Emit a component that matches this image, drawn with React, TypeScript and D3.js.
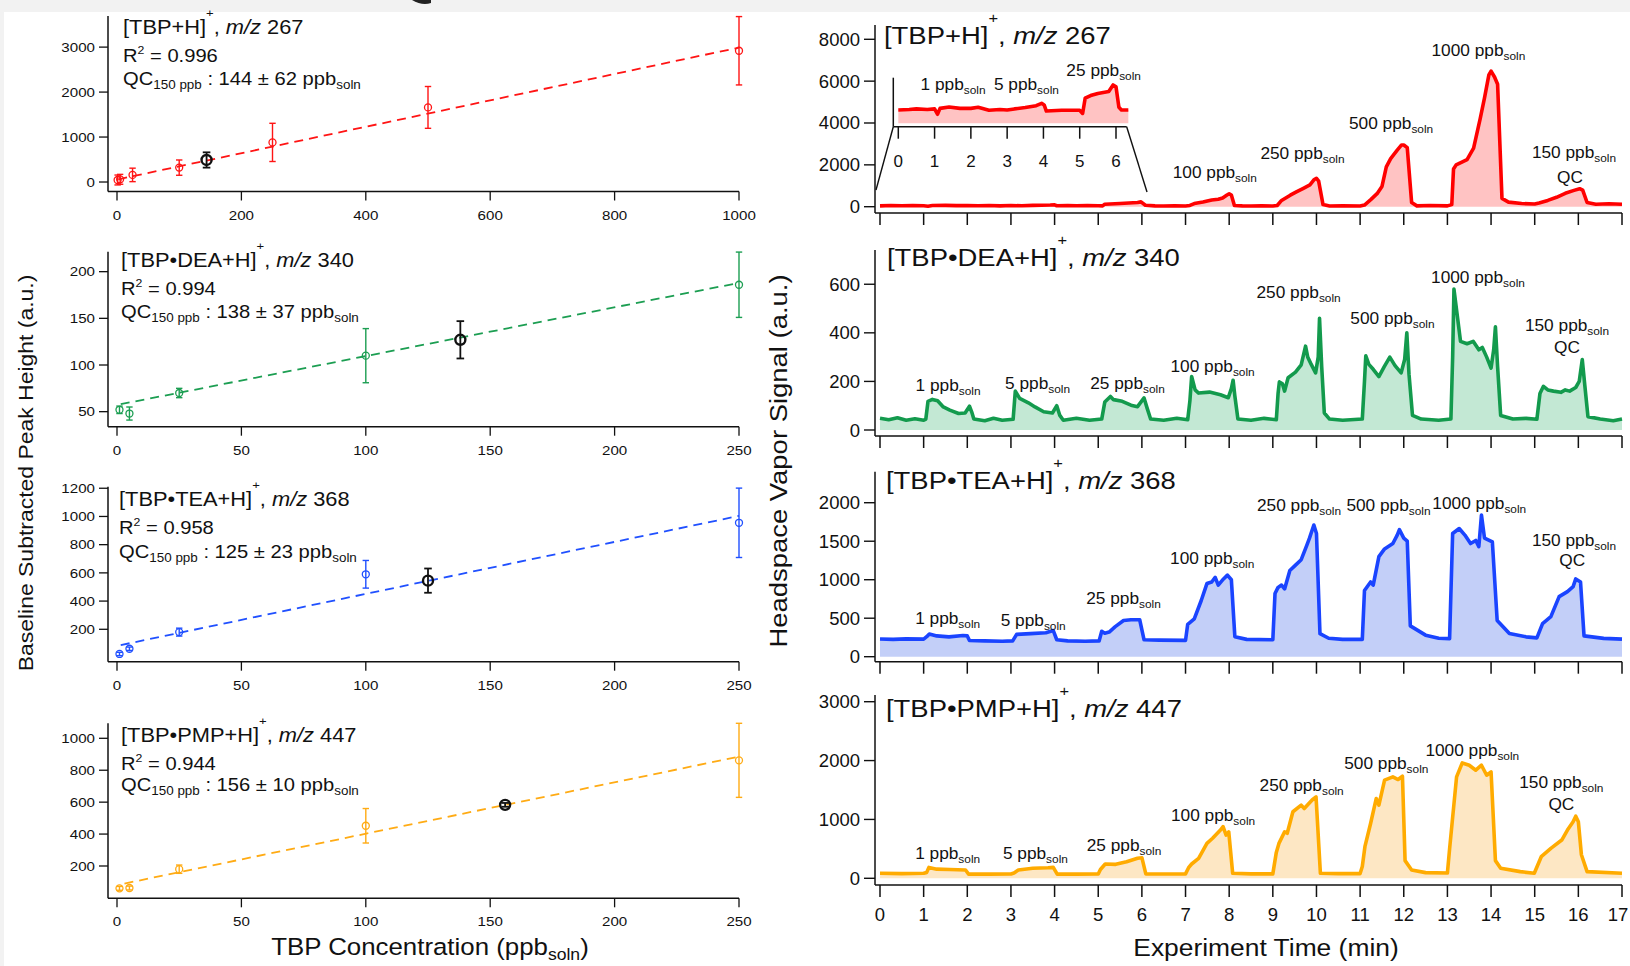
import React from 'react';
import * as d3 from 'd3';

const FONT = '"Liberation Sans", Arial, Helvetica, sans-serif';

// ---------------- Calibration data (left column) ----------------
const conc267 = [1, 5, 25, 100, 250, 500, 1000];
const height267 = [45, 60, 158, 320, 881, 1659, 2919];
const err267 = [110, 110, 150, 170, 425, 465, 760];
const qc267 = [144, 490, 170];
const fit267: [number, number][] = [[2, 60], [1000, 2990]];

const conc340 = [1, 5, 25, 100, 250];
const height340 = [52, 48, 70, 110, 186];
const err340 = [4, 7, 5, 29, 35];
const qc340 = [138, 127, 20];
const fit340: [number, number][] = [[1.5, 58], [250, 188]];

const conc368 = [1, 5, 25, 100, 250];
const height368 = [25, 62, 180, 590, 955];
const err368 = [12, 12, 28, 98, 246];
const qc368 = [125, 545, 86];
const fit368: [number, number][] = [[1.5, 88], [250, 1004]];

const conc447 = [1, 5, 25, 100, 250];
const height447 = [60, 62, 180, 452, 862];
const err447 = [12, 12, 26, 108, 232];
const qc447 = [156, 583, 12];
const fit447: [number, number][] = [[3, 90], [250, 885]];

const r2Values = ['0.996', '0.994', '0.958', '0.944'];
const qcValues = ['144 ± 62', '138 ± 37', '125 ± 23', '156 ± 10'];
const species = ['[TBP+H]', '[TBP•DEA+H]', '[TBP•TEA+H]', '[TBP•PMP+H]'];
const mzValues = ['267', '340', '368', '447'];

const xTicksL1 = [0, 200, 400, 600, 800, 1000];
const xTicksL = [0, 50, 100, 150, 200, 250];
const yTicksL1 = [0, 1000, 2000, 3000];
const yTicksL2 = [50, 100, 150, 200];
const yTicksL3 = [200, 400, 600, 800, 1000, 1200];
const yTicksL4 = [200, 400, 600, 800, 1000];

// ---------------- Time traces (right column) ----------------
const trace267: [number, number][] = [
  [0, 40], [0.25, 55], [0.5, 45], [0.75, 60], [1.0, 45], [1.1, 25], [1.2, 55], [1.5, 65], [1.75, 50], [2.0, 60],
  [2.25, 45], [2.5, 55], [2.75, 40], [3.0, 55], [3.25, 45], [3.5, 65], [3.9, 80], [4.0, 90], [4.05, 45],
  [4.3, 60], [4.5, 45], [4.75, 55], [5.0, 45], [5.1, 40], [5.15, 120], [5.5, 150], [5.9, 200],
  [5.98, 230], [6.08, 70], [6.3, 40], [6.5, 30], [6.75, 45], [7.0, 30], [7.1, 60], [7.2, 150], [7.4, 220],
  [7.6, 320], [7.75, 360], [7.85, 420], [7.95, 560], [8.0, 620], [8.05, 560], [8.12, 60], [8.3, 40], [8.5, 30],
  [8.75, 45], [9.0, 30], [9.1, 60], [9.2, 300], [9.4, 550], [9.55, 720], [9.7, 880], [9.85, 1040], [9.95, 1300],
  [10.0, 1360], [10.05, 1220], [10.15, 100], [10.3, 30], [10.6, 45], [11.0, 30], [11.1, 80], [11.25, 350],
  [11.4, 650], [11.5, 960], [11.6, 1900], [11.7, 2300], [11.85, 2700], [11.95, 2950], [12.0, 2950],
  [12.08, 2820], [12.18, 200], [12.3, 40], [12.6, 55], [13.0, 40], [13.1, 100], [13.14, 1800], [13.2, 2000],
  [13.45, 2250], [13.6, 2800], [13.75, 4200], [13.85, 5200], [13.95, 6300], [14.0, 6480], [14.08, 6200],
  [14.15, 5850], [14.25, 400], [14.4, 220], [14.7, 150], [15.0, 130], [15.1, 180], [15.3, 300], [15.5, 450],
  [15.7, 640], [15.9, 780], [16.03, 860], [16.1, 790], [16.2, 200], [16.4, 120], [16.7, 140], [17.0, 120],
];

const inset267: [number, number][] = [
  [0, 50], [0.3, 52], [0.5, 54], [0.8, 52], [1.0, 54], [1.08, 34], [1.15, 56], [1.4, 61], [1.7, 56], [2.0, 56],
  [2.2, 60], [2.5, 49], [2.8, 52], [3.0, 50], [3.2, 54], [3.5, 59], [3.8, 66], [3.95, 75], [4.02, 69], [4.08, 46],
  [4.5, 49], [5.0, 49], [5.08, 37], [5.15, 94], [5.3, 104], [5.5, 112], [5.8, 119], [5.92, 144], [6.0, 137],
  [6.08, 60], [6.15, 50], [6.34, 50],
];

const trace340: [number, number][] = [
  [0, 48], [0.2, 42], [0.4, 50], [0.6, 40], [0.8, 46], [1.0, 40], [1.05, 45], [1.1, 118], [1.2, 126], [1.32, 120],
  [1.45, 95], [1.6, 82], [1.8, 68], [1.95, 70], [2.05, 98], [2.1, 75], [2.15, 45], [2.4, 38], [2.6, 48], [2.8, 40],
  [3.05, 44], [3.1, 160], [3.2, 130], [3.4, 112], [3.55, 95], [3.75, 75], [3.95, 70], [4.05, 100], [4.12, 60],
  [4.2, 40], [4.5, 48], [4.8, 40], [5.08, 45], [5.15, 115], [5.28, 138], [5.35, 125], [5.55, 118], [5.75, 102],
  [5.9, 96], [6.05, 132], [6.12, 90], [6.2, 45], [6.5, 40], [6.8, 48], [7.05, 42], [7.1, 120], [7.14, 220],
  [7.22, 165], [7.3, 152], [7.55, 156], [7.8, 145], [7.98, 133], [8.05, 170], [8.09, 205], [8.13, 140], [8.2, 45],
  [8.5, 40], [8.8, 48], [9.08, 42], [9.12, 150], [9.15, 198], [9.22, 190], [9.27, 160], [9.35, 215], [9.52, 238],
  [9.65, 268], [9.75, 345], [9.8, 300], [9.88, 270], [9.98, 235], [10.04, 300], [10.07, 460], [10.12, 260],
  [10.18, 70], [10.3, 45], [10.6, 40], [11.05, 45], [11.1, 200], [11.13, 305], [11.2, 270], [11.3, 250],
  [11.43, 220], [11.55, 260], [11.68, 300], [11.8, 265], [11.94, 235], [12.02, 290], [12.07, 400], [12.12, 230],
  [12.2, 60], [12.4, 45], [12.8, 40], [13.08, 45], [13.12, 300], [13.15, 580], [13.22, 480], [13.3, 365],
  [13.45, 355], [13.59, 365], [13.72, 330], [13.8, 340], [13.9, 300], [14.0, 255], [14.06, 330], [14.1, 425],
  [14.15, 260], [14.22, 60], [14.5, 45], [14.8, 48], [15.05, 44], [15.12, 150], [15.2, 180], [15.3, 165],
  [15.43, 160], [15.6, 155], [15.7, 165], [15.8, 160], [15.94, 175], [16.02, 200], [16.09, 290], [16.15, 180],
  [16.22, 55], [16.5, 45], [16.8, 38], [17.0, 45],
];

const trace368: [number, number][] = [
  [0, 230], [0.3, 225], [0.6, 232], [1.0, 228], [1.07, 260], [1.13, 295], [1.3, 270], [1.58, 258], [1.9, 275],
  [2.0, 270], [2.05, 210], [2.4, 205], [2.8, 200], [3.04, 205], [3.13, 290], [3.45, 300], [3.8, 312], [3.97, 340],
  [4.05, 220], [4.3, 205], [4.7, 200], [5.02, 205], [5.08, 330], [5.15, 305], [5.25, 320], [5.39, 390],
  [5.58, 470], [5.75, 480], [5.95, 480], [6.05, 220], [6.4, 215], [7.0, 212], [7.05, 420], [7.2, 490],
  [7.36, 730], [7.49, 950], [7.6, 970], [7.68, 1030], [7.75, 930], [7.87, 1010], [7.96, 1060], [8.05, 1000],
  [8.13, 260], [8.4, 225], [9.0, 220], [9.05, 820], [9.12, 900], [9.2, 930], [9.27, 880], [9.39, 1120],
  [9.52, 1190], [9.65, 1260], [9.78, 1450], [9.84, 1540], [9.94, 1710], [10.0, 1600], [10.08, 300], [10.28, 240],
  [10.6, 225], [11.05, 225], [11.1, 860], [11.24, 970], [11.3, 930], [11.43, 1300], [11.56, 1400], [11.75, 1470],
  [11.85, 1580], [11.9, 1650], [12.0, 1540], [12.08, 1500], [12.15, 400], [12.5, 280], [12.8, 240], [13.05, 235],
  [13.12, 1600], [13.27, 1665], [13.4, 1580], [13.53, 1470], [13.65, 1510], [13.72, 1430], [13.78, 1840],
  [13.85, 1540], [14.03, 1490], [14.14, 470], [14.42, 300], [14.8, 258], [15.05, 245], [15.18, 430], [15.37, 520],
  [15.56, 780], [15.75, 845], [15.88, 910], [15.94, 1010], [16.05, 970], [16.13, 270], [16.58, 238], [17.0, 228],
];

const trace447: [number, number][] = [
  [0, 85], [0.5, 80], [1.0, 85], [1.07, 100], [1.12, 185], [1.3, 155], [1.6, 150], [1.96, 140], [2.03, 70],
  [2.5, 70], [3.0, 72], [3.07, 90], [3.17, 140], [3.5, 170], [3.85, 180], [3.97, 186], [4.06, 70], [4.5, 70],
  [5.0, 72], [5.05, 150], [5.16, 243], [5.4, 237], [5.65, 282], [5.9, 340], [6.0, 350], [6.09, 75], [6.5, 72],
  [7.0, 75], [7.07, 180], [7.14, 243], [7.3, 340], [7.49, 593], [7.62, 680], [7.8, 820], [7.86, 876], [7.93, 734],
  [7.99, 790], [8.08, 85], [8.5, 75], [9.0, 75], [9.08, 440], [9.14, 593], [9.27, 790], [9.33, 765], [9.46, 1130],
  [9.65, 1243], [9.72, 1186], [9.9, 1330], [9.99, 1384], [10.09, 85], [10.5, 80], [11.0, 80], [11.05, 200],
  [11.11, 537], [11.24, 930], [11.37, 1356], [11.43, 1243], [11.56, 1667], [11.75, 1723], [11.87, 1678],
  [11.97, 1734], [12.03, 300], [12.18, 141], [12.5, 96], [13.0, 90], [13.05, 500], [13.21, 1723], [13.34, 1960],
  [13.5, 1921], [13.65, 1836], [13.78, 1921], [13.9, 1751], [14.0, 1808], [14.1, 300], [14.22, 170], [14.67, 113],
  [14.99, 85], [15.15, 367], [15.37, 508], [15.62, 650], [15.75, 819], [15.88, 960], [15.94, 1056], [16.0, 960],
  [16.07, 400], [16.2, 113], [17.0, 85],
];

const timeTicks = d3.range(0, 18);
const insetTicks = [0, 1, 2, 3, 4, 5, 6];
const yTicksR1 = [0, 2000, 4000, 6000, 8000];
const yTicksR2 = [0, 200, 400, 600];
const yTicksR3 = [0, 500, 1000, 1500, 2000];
const yTicksR4 = [0, 1000, 2000, 3000];

// peak labels: [concentration text, time (min), signal value]
const labels267: [string, number, number][] = [
  ['100', 7.67, 1372], ['250', 9.68, 2280], ['500', 11.71, 3713], ['1000', 13.71, 7202], ['150', 15.9, 2327],
];
const qcLabel267: [number, number] = [15.81, 1133];
const insetLabels267: [string, number, number][] = [['1', 1.51, 125], ['5', 3.53, 125], ['25', 5.66, 177]];
const labels340: [string, number, number][] = [
  ['1', 1.56, 160], ['5', 3.61, 169], ['25', 5.67, 169], ['100', 7.62, 239], ['250', 9.59, 544],
  ['500', 11.74, 436], ['1000', 13.7, 605], ['150', 15.74, 408],
];
const qcLabel340: [number, number] = [15.74, 317];
const labels368: [string, number, number][] = [
  ['1', 1.55, 425], ['5', 3.51, 399], ['25', 5.58, 684], ['100', 7.61, 1204], ['250', 9.6, 1892],
  ['500', 11.65, 1892], ['1000', 13.73, 1918], ['150', 15.9, 1438],
];
const qcLabel368: [number, number] = [15.86, 1178];
const labels447: [string, number, number][] = [
  ['1', 1.55, 328], ['5', 3.56, 328], ['25', 5.59, 464], ['100', 7.63, 973], ['250', 9.66, 1483],
  ['500', 11.6, 1857], ['1000', 13.57, 2078], ['150', 15.61, 1534],
];
const qcLabel447: [number, number] = [15.61, 1160];

// ---------------- helpers ----------------
const SX = 1.12;

function Txt(props: any) {
  const { x, y, size, anchor = 'start', rotate = 0, sx = SX, children, italic } = props;
  const tr = `translate(${x},${y})${rotate ? ` rotate(${rotate})` : ''} scale(${sx},1)`;
  return (
    <text transform={tr} fontSize={size} textAnchor={anchor} fontFamily={FONT} fill="#111"
      fontStyle={italic ? 'italic' : 'normal'}>
      {children}
    </text>
  );
}

function Title({ x, y, size, sp, mz }: any) {
  const up = size * 0.85;
  return (
    <Txt x={x} y={y} size={size}>
      {sp}
      <tspan dy={-up} fontSize={size * 0.6}>+</tspan>
      <tspan dy={up}>{', '}</tspan>
      <tspan fontStyle="italic">m/z</tspan>
      <tspan>{' ' + mz}</tspan>
    </Txt>
  );
}

function PeakLabel({ x, y, num }: any) {
  return (
    <Txt x={x} y={y} size={16} anchor="middle" sx={1.08}>
      {`${num} ppb`}
      <tspan dy={4} fontSize={11}>soln</tspan>
    </Txt>
  );
}

// ---------------- left calibration panels ----------------
const calPanels = [
  { conc: conc267, h: height267, e: err267, qc: qc267, fit: fit267, color: '#ff1414', xMax: 1000, xTicks: xTicksL1,
    yTicks: yTicksL1, yDomain: [-211, 3692], yRange: [191.5, 16], tx: 123, ty: [34, 62, 85] },
  { conc: conc340, h: height340, e: err340, qc: qc340, fit: fit340, color: '#1c9e52', xMax: 250, xTicks: xTicksL,
    yTicks: yTicksL2, yDomain: [33.9, 221.4], yRange: [426.7, 251.7], tx: 121, ty: [267, 295, 318] },
  { conc: conc368, h: height368, e: err368, qc: qc368, fit: fit368, color: '#2050ff', xMax: 250, xTicks: xTicksL,
    yTicks: yTicksL3, yDomain: [-29.8, 1211], yRange: [661.7, 486.7], tx: 119, ty: [506, 534, 558] },
  { conc: conc447, h: height447, e: err447, qc: qc447, fit: fit447, color: '#ffab14', xMax: 250, xTicks: xTicksL,
    yTicks: yTicksL4, yDomain: [-2.4, 1094], yRange: [898.3, 723.3], tx: 121, ty: [742, 770, 791] },
];

function ErrorBar({ cx, y, v, e, color, w, cap }: any) {
  const y1 = y(v - e), y2 = y(v + e);
  return (
    <g stroke={color} strokeWidth={w} fill="none">
      <line x1={cx} x2={cx} y1={y1} y2={y2} />
      <line x1={cx - cap} x2={cx + cap} y1={y1} y2={y1} />
      <line x1={cx - cap} x2={cx + cap} y1={y2} y2={y2} />
    </g>
  );
}

function CalPanel({ c, i }: any) {
  const AX = 108;
  const x = d3.scaleLinear().domain([0, c.xMax]).range([117, 739]);
  const y = d3.scaleLinear().domain(c.yDomain).range(c.yRange);
  const base = c.yRange[0];
  const top = c.yRange[1];
  const fitLine = d3.line<[number, number]>().x(d => x(d[0])).y(d => y(d[1]))(c.fit) || '';
  return (
    <g>
      <path d={fitLine} stroke={c.color} strokeWidth={1.8} strokeDasharray="9,6" fill="none" />
      {c.conc.map((cv: number, k: number) => (
        <g key={k}>
          <ErrorBar cx={x(cv)} y={y} v={c.h[k]} e={c.e[k]} color={c.color} w={1.4} cap={3.2} />
          <circle cx={x(cv)} cy={y(c.h[k])} r={3.5} fill="none" stroke={c.color} strokeWidth={1.3} />
        </g>
      ))}
      <ErrorBar cx={x(c.qc[0])} y={y} v={c.qc[1]} e={c.qc[2]} color="#111" w={1.8} cap={3.8} />
      <circle cx={x(c.qc[0])} cy={y(c.qc[1])} r={5} fill="none" stroke="#111" strokeWidth={2.4} />
      {/* axes */}
      <line x1={AX} x2={AX} y1={top} y2={base} stroke="#111" strokeWidth={1.5} />
      <line x1={AX} x2={739} y1={base} y2={base} stroke="#111" strokeWidth={1.5} />
      {c.yTicks.map((t: number) => (
        <g key={'y' + t}>
          <line x1={AX - 9} x2={AX} y1={y(t)} y2={y(t)} stroke="#111" strokeWidth={1.3} />
          <Txt x={AX - 13} y={y(t) + 4.8} size={13.5} anchor="end">{String(t)}</Txt>
        </g>
      ))}
      {c.xTicks.map((t: number) => (
        <g key={'x' + t}>
          <line x1={x(t)} x2={x(t)} y1={base} y2={base + 9} stroke="#111" strokeWidth={1.3} />
          <Txt x={x(t)} y={base + 28} size={13.5} anchor="middle">{String(t)}</Txt>
        </g>
      ))}
      {/* text block */}
      <Title x={c.tx} y={c.ty[0]} size={19.5} sp={species[i]} mz={mzValues[i]} />
      <Txt x={c.tx} y={c.ty[1]} size={18}>
        R<tspan dy={-8} fontSize={11}>2</tspan><tspan dy={8}>{' = ' + r2Values[i]}</tspan>
      </Txt>
      <Txt x={c.tx} y={c.ty[2]} size={18}>
        QC<tspan dy={4} fontSize={12}>150 ppb</tspan>
        <tspan dy={-4}>{' : ' + qcValues[i] + ' ppb'}</tspan>
        <tspan dy={4} fontSize={12}>soln</tspan>
      </Txt>
    </g>
  );
}

// ---------------- right time panels ----------------
const timePanels = [
  { data: trace267, color: '#ff0000', fill: '#ffc3c3', yDomain: [-301, 8683], yRange: [213, 25], yTicks: yTicksR1,
    titleY: 44, titleX: 884, labels: labels267, qcLabel: qcLabel267 },
  { data: trace340, color: '#139a4d', fill: '#c3e8d4', yDomain: [-24.7, 741], yRange: [436, 250], yTicks: yTicksR2,
    titleY: 266, titleX: 887, labels: labels340, qcLabel: qcLabel340 },
  { data: trace368, color: '#1a44ff', fill: '#c3cff8', yDomain: [-65, 2403], yRange: [661.7, 471.7], yTicks: yTicksR3,
    titleY: 489, titleX: 886, labels: labels368, qcLabel: qcLabel368 },
  { data: trace447, color: '#ffab00', fill: '#fde7c4', yDomain: [-114, 3114], yRange: [885, 695], yTicks: yTicksR4,
    titleY: 717, titleX: 886, labels: labels447, qcLabel: qcLabel447 },
];

function TimePanel({ p, i, last }: any) {
  const AX = 875;
  const x = d3.scaleLinear().domain([0, 17]).range([880, 1622]);
  const y = d3.scaleLinear().domain(p.yDomain).range(p.yRange);
  const base = p.yRange[0];
  const top = p.yRange[1];
  const line = d3.line<[number, number]>().x(d => x(d[0])).y(d => y(d[1]));
  const area = d3.area<[number, number]>().x(d => x(d[0])).y0(y(0)).y1(d => y(d[1]));
  return (
    <g>
      <path d={area(p.data) || ''} fill={p.fill} stroke="none" />
      <path d={line(p.data) || ''} fill="none" stroke={p.color} strokeWidth={3.6} strokeLinejoin="round" />
      <line x1={AX} x2={AX} y1={top} y2={base} stroke="#111" strokeWidth={1.5} />
      <line x1={AX} x2={1622} y1={base} y2={base} stroke="#111" strokeWidth={1.5} />
      {p.yTicks.map((t: number) => (
        <g key={'y' + t}>
          <line x1={AX - 11} x2={AX} y1={y(t)} y2={y(t)} stroke="#111" strokeWidth={1.4} />
          <Txt x={860} y={y(t) + 6.5} size={18.5} anchor="end" sx={1}>{String(t)}</Txt>
        </g>
      ))}
      {timeTicks.map((t: number) => (
        <g key={'x' + t}>
          <line x1={x(t)} x2={x(t)} y1={base} y2={base + 12} stroke="#111" strokeWidth={1.5} />
          {last && <Txt x={Math.min(x(t), 1618)} y={base + 36} size={18.5} anchor="middle" sx={1}>{String(t)}</Txt>}
        </g>
      ))}
      <Title x={p.titleX} y={p.titleY} size={24.5} sp={species[i]} mz={mzValues[i]} />
      {p.labels.map((l: [string, number, number], k: number) => (
        <PeakLabel key={k} x={x(l[1])} y={y(l[2])} num={l[0]} />
      ))}
      <Txt x={x(p.qcLabel[0])} y={y(p.qcLabel[1])} size={16} anchor="middle" sx={1.08}>QC</Txt>
    </g>
  );
}

function Inset() {
  const x = d3.scaleLinear().domain([0, 6]).range([898.3, 1116]);
  const y = d3.scaleLinear().domain([-12.7, 171]).range([126.7, 77.7]);
  const line = d3.line<[number, number]>().x(d => x(d[0])).y(d => y(d[1]));
  const area = d3.area<[number, number]>().x(d => x(d[0])).y0(y(0)).y1(d => y(d[1]));
  const AX = 893.3;
  const base = 126.7;
  return (
    <g>
      <path d={area(inset267) || ''} fill="#ffc3c3" />
      <path d={line(inset267) || ''} fill="none" stroke="#ff0000" strokeWidth={3.6} strokeLinejoin="round" />
      <line x1={AX} x2={AX} y1={77.7} y2={base} stroke="#111" strokeWidth={1.5} />
      <line x1={AX} x2={1126.7} y1={base} y2={base} stroke="#111" strokeWidth={1.5} />
      {insetTicks.map(t => (
        <g key={t}>
          <line x1={x(t)} x2={x(t)} y1={base} y2={base + 12} stroke="#111" strokeWidth={1.5} />
          <Txt x={x(t)} y={167} size={17} anchor="middle" sx={1}>{String(t)}</Txt>
        </g>
      ))}
      <line x1={AX} y1={base} x2={876} y2={190} stroke="#111" strokeWidth={1.4} />
      <line x1={1126.7} y1={base} x2={1147} y2={192} stroke="#111" strokeWidth={1.4} />
      {insetLabels267.map((l, k) => (
        <PeakLabel key={k} x={x(l[1])} y={y(l[2])} num={l[0]} />
      ))}
    </g>
  );
}

export default function App() {
  return (
    <svg width={1630} height={966} viewBox="0 0 1630 966"
      style={{ position: 'absolute', left: 0, top: 0, display: 'block', background: '#fff' }}>
      <rect x={0} y={0} width={1630} height={966} fill="#ffffff" />
      <rect x={0} y={0} width={1630} height={12} fill="#f2f2f2" />
      <rect x={0} y={0} width={4} height={966} fill="#f2f2f2" />
      <path d="M412,0 Q422,6 431,3 L431,0 Z" fill="#222" />
      {calPanels.map((c, i) => <CalPanel key={i} c={c} i={i} />)}
      {timePanels.map((p, i) => <TimePanel key={i} p={p} i={i} last={i === 3} />)}
      <Inset />
      {/* axis titles */}
      <Txt x={33} y={473} size={20.5} anchor="middle" rotate={-90}>Baseline Subtracted Peak Height (a.u.)</Txt>
      <Txt x={787} y={461} size={24.5} anchor="middle" rotate={-90}>Headspace Vapor Signal (a.u.)</Txt>
      <Txt x={430} y={955} size={23.5} anchor="middle" sx={1.1}>
        {'TBP Concentration (ppb'}
        <tspan dy={5} fontSize={16}>soln</tspan>
        <tspan dy={-5}>)</tspan>
      </Txt>
      <Txt x={1266} y={956} size={24} anchor="middle" sx={1.1}>Experiment Time (min)</Txt>
    </svg>
  );
}
